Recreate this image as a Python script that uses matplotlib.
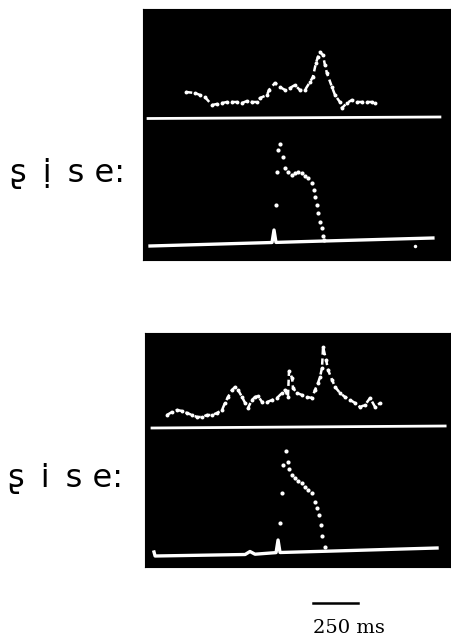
import matplotlib
matplotlib.use("Agg")
import matplotlib.pyplot as plt

# time in ms from the left edge of each screen, amplitude in arbitrary screen units
LABELS = ("\u0282\u2002\u1ecb\u2002s e:", "\u0282\u2002i\u2002s e:")

# --- upper screen ---
f0_t_1 = [239, 289, 317, 344, 383, 411, 439, 467, 494, 522, 550, 578, 606, 633, 650,
          689, 700, 733, 761, 789, 817, 844, 872, 900, 928, 944, 961, 972, 983, 1000,
          1011, 1022, 1050, 1067, 1094, 1106, 1133, 1161, 1189, 1217, 1244, 1272, 1289]
f0_v_1 = [168, 167, 165, 163, 155, 156, 157, 158, 158, 158, 157, 159, 158, 158, 162,
          165, 170, 177, 173, 170, 172, 175, 170, 170, 178, 183, 197, 203, 208, 205,
          195, 187, 173, 165, 158, 152, 157, 160, 158, 158, 158, 158, 157]
sep_t_1 = [28, 1650]
sep_v_1 = [141.5, 143]
base_t_1 = [39, 717, 728, 739, 1006, 1611]
base_v_1 = [14, 17.5, 30, 17.6, 19, 22]
env_t_1 = [739, 744, 750, 761, 778, 789, 806, 828, 844, 861, 883, 900, 917, 939,
           950, 956, 967, 972, 983, 994, 1000, 1006]
env_v_1 = [55, 88, 110, 116, 103, 92, 88, 85, 87, 88, 87, 84, 82, 77,
           70, 63, 55, 47, 38, 32, 24, 20]
stray_t_1 = [1511]
stray_v_1 = [14]

# --- lower screen ---
f0_t_2 = [122, 150, 178, 206, 233, 261, 289, 317, 344, 372, 400, 428, 444, 461, 483,
          500, 517, 539, 556, 572, 594, 611, 628, 650, 678, 706, 733, 761, 778, 794,
          800, 817, 822, 844, 872, 900, 928, 944, 961, 972, 983, 989, 1006, 1017, 1039,
          1056, 1083, 1111, 1139, 1167, 1194, 1222, 1250, 1278, 1306]
f0_v_2 = [152, 155, 157, 156, 154, 152, 150, 150, 152, 152, 154, 157, 164, 170, 177,
          180, 177, 170, 164, 159, 167, 170, 171, 165, 165, 167, 169, 174, 177, 170,
          196, 189, 179, 174, 172, 170, 169, 177, 184, 190, 199, 220, 207, 197, 187,
          180, 174, 170, 167, 164, 160, 162, 169, 160, 164]
sep_t_2 = [39, 1667]
sep_v_2 = [139, 141]
base_t_2 = [50, 56, 556, 583, 611, 728, 739, 750, 1011, 1622]
base_v_2 = [15, 11, 12.5, 15.5, 12.8, 14.4, 27, 14.5, 15.8, 19]
env_t_2 = [750, 761, 767, 783, 794, 800, 817, 833, 850, 872, 889, 906, 928,
           944, 956, 967, 978, 983, 1000]
env_v_2 = [44, 74, 102, 116, 105, 98, 92, 89, 86, 84, 80, 77, 74,
           65, 59, 52, 42, 31, 20]

SCALE_MS = 250
SCALE_START = 933

FIG_W, FIG_H = 452, 639


def screen(fig, box, width_ms, height):
    x0, y0, x1, y1 = box
    ax = fig.add_axes([x0 / FIG_W, 1 - y1 / FIG_H, (x1 - x0) / FIG_W, (y1 - y0) / FIG_H])
    ax.set_facecolor("black")
    ax.set_xlim(0, width_ms)
    ax.set_ylim(0, height)
    ax.set_xticks([])
    ax.set_yticks([])
    for s in ax.spines.values():
        s.set_color("black")
    return ax


def draw_traces(ax, f0_t, f0_v, sep_t, sep_v, base_t, base_v, env_t, env_v):
    ax.plot(f0_t, f0_v, ls=(0, (2.5, 1.5)), lw=1.8, color="white",
            marker="o", ms=2.8, mew=0)
    ax.plot(sep_t, sep_v, color="white", lw=2.0)
    ax.plot(base_t, base_v, color="white", lw=2.4, solid_joinstyle="round")
    ax.plot(env_t, env_v, ls="none", marker="o", ms=3.0, mew=0, color="white")


fig = plt.figure(figsize=(FIG_W / 100, FIG_H / 100), dpi=100)

ax1 = screen(fig, (143, 9, 450, 260), 1706, 251)
draw_traces(ax1, f0_t_1, f0_v_1, sep_t_1, sep_v_1, base_t_1, base_v_1, env_t_1, env_v_1)
ax1.plot(stray_t_1, stray_v_1, ls="none", marker="o", ms=2.5, mew=0, color="white")

ax2 = screen(fig, (145, 333, 450, 567), 1694, 234)
draw_traces(ax2, f0_t_2, f0_v_2, sep_t_2, sep_v_2, base_t_2, base_v_2, env_t_2, env_v_2)

# scale bar, same time scale as the lower screen
axs = fig.add_axes([145 / FIG_W, 0, 305 / FIG_W, 72 / FIG_H])
axs.set_xlim(0, 1694)
axs.set_ylim(0, 72)
axs.axis("off")
axs.plot([SCALE_START, SCALE_START + SCALE_MS], [36, 36], color="black", lw=1.8)
axs.text(SCALE_START, 6, f"{SCALE_MS} ms", family="DejaVu Serif", fontsize=14,
         ha="left", va="baseline")

fig.text(10 / FIG_W, 1 - 182 / FIG_H, LABELS[0], fontsize=23, va="baseline",
         family=["DejaVu Sans"])
fig.text(8 / FIG_W, 1 - 487 / FIG_H, LABELS[1], fontsize=23, va="baseline",
         family=["DejaVu Sans"])

fig.savefig("out.png", dpi=100)
